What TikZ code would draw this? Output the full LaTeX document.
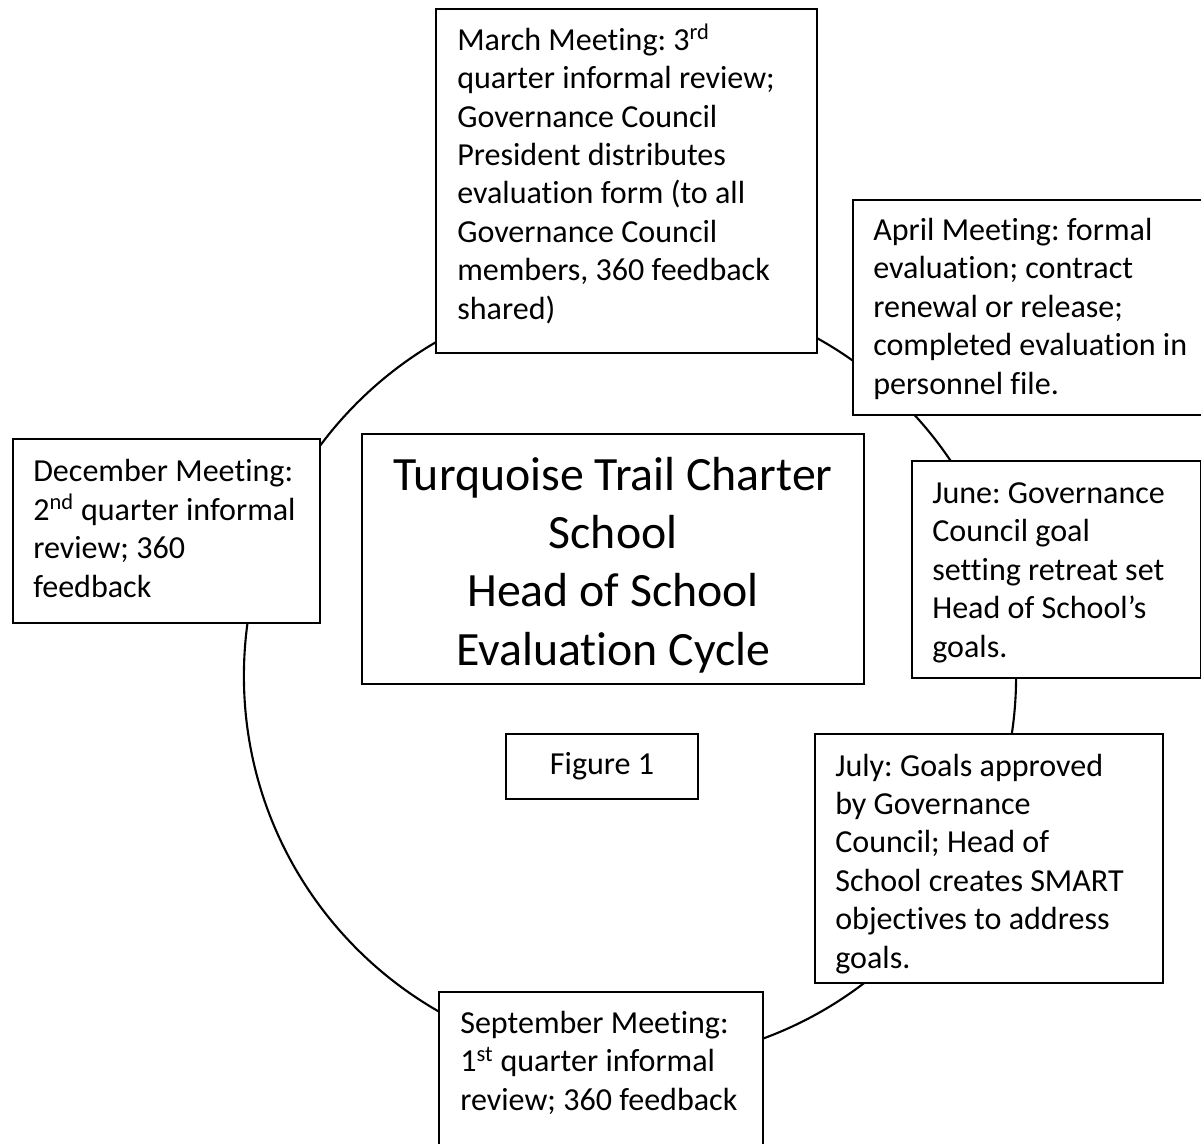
\documentclass[tikz,border=0pt]{standalone}
\usepackage{fontspec}
\setmainfont{Carlito}[Ligatures=NoCommon]
\usetikzlibrary{calc}
\frenchspacing

\begin{document}
\begin{tikzpicture}
    [   x=0.025cm, y=-0.025cm,
        mbox/.style={draw=black,fill=white,line width=1.5pt,anchor=north west,inner sep=0pt},
        mtext/.style={anchor=base west,align=left,inner sep=0pt,font=\fontsize{22.8}{27.3}\selectfont},
    ]
        \useasboundingbox (0,0) rectangle (1201,1143);
        % the cycle
        \node[circle,draw=black,line width=1.5pt,minimum size=19.3cm,inner sep=0pt] (cyc) at (630,676) {};

        % multi-line texts sit on the baseline of their last line
        \node[mbox,minimum width=12.55cm,minimum height=6.25cm] (ttl) at (361,433) {};
        \node[anchor=base,align=center,inner sep=0pt,font=\fontsize{34}{41.3}\selectfont] (ttl-t) at ($(ttl.north)+(0,232)$)
            {Turquoise Trail Charter\\School\\Head of School\\Evaluation Cycle};

        \node[mbox,minimum width=4.8cm,minimum height=1.625cm] (fig) at (505,733) {};
        \node[mtext,anchor=base] (fig-t) at ($(fig.north)+(0,41)$) {Figure 1};

        \node[mbox,minimum width=9.525cm,minimum height=8.6cm] (mar) at (435,8) {};
        \node[mtext] (mar-t) at ($(mar.north west)+(22,311)$)
            {March Meeting: 3\textsuperscript{rd}\\quarter informal review;\\Governance Council\\President distributes\\evaluation form (to all\\Governance Council\\members, 360 feedback\\shared)};

        \node[mbox,minimum width=8.95cm,minimum height=5.375cm] (apr) at (852,199) {};
        \node[mtext] (apr-t) at ($(apr.north west)+(21,195)$)
            {April Meeting: formal\\evaluation; contract\\renewal or release;\\completed evaluation in\\personnel file.};

        \node[mbox,minimum width=7.675cm,minimum height=4.6cm] (dec) at (12,438) {};
        \node[mtext] (dec-t) at ($(dec.north west)+(21,159)$)
            {December Meeting:\\2\textsuperscript{nd} quarter informal\\review; 360\\feedback};

        \node[mbox,minimum width=7.225cm,minimum height=5.425cm] (jun) at (911,460) {};
        \node[mtext] (jun-t) at ($(jun.north west)+(21,197)$)
            {June: Governance\\Council goal\\setting retreat set\\Head of School’s\\goals.};

        \node[mbox,minimum width=8.7cm,minimum height=6.225cm] (jul) at (814,733) {};
        \begin{scope}
            \clip (jul.north west) rectangle (jul.south east);
            \node[mtext] (jul-t) at ($(jul.north west)+(21,235)$)
                {July: Goals approved\\by Governance\\Council; Head of\\School creates SMART\\objectives to address\\goals.};
        \end{scope}

        \node[mbox,minimum width=8.1cm,minimum height=4.4cm] (sep) at (438,991) {};
        \node[mtext] (sep-t) at ($(sep.north west)+(22,119)$)
            {September Meeting:\\1\textsuperscript{st} quarter informal\\review; 360 feedback};
    \end{tikzpicture}
\end{document}
